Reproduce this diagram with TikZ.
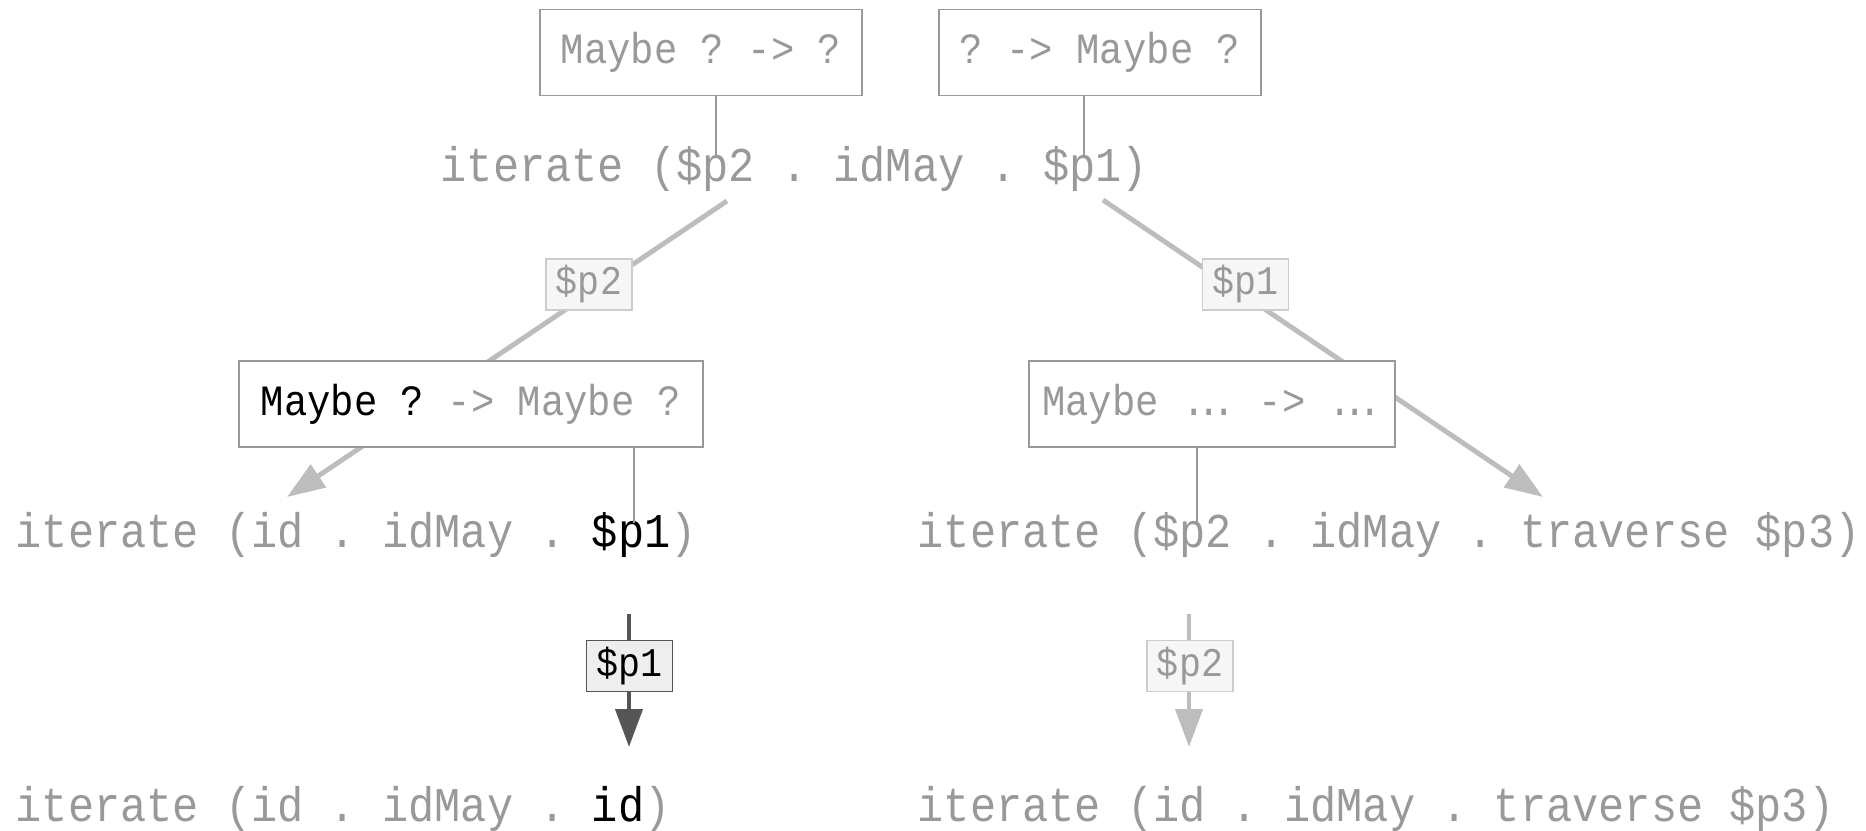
\documentclass[tikz,border=0pt]{standalone}
\usepackage{fontspec}
\usetikzlibrary{positioning,arrows.meta}

\newfontfamily\codefont{Liberation Mono}[FakeStretch=0.9]
\newcommand\mdots{.\kern-2.4pt.\kern-2.4pt.}
\frenchspacing

\definecolor{codegray}{HTML}{999999}
\definecolor{edgegray}{HTML}{BDBDBD}
\definecolor{taggray}{HTML}{CCCCCC}
\definecolor{tagfill}{HTML}{F6F6F6}
\definecolor{hotline}{HTML}{555555}
\definecolor{hotfill}{HTML}{EEEEEE}

\begin{document}
\begin{tikzpicture}[x=0.1mm, y=-0.1mm,
      expr/.style={font=\codefont\fontsize{13.8pt}{16pt}\selectfont,
          text=codegray, inner sep=0pt, anchor=base west},
      sig/.style={draw=codegray, line width=0.5pt, fill=white,
          font=\codefont\fontsize{12.3pt}{14pt}\selectfont,
          text=codegray, minimum height=8.6mm, inner sep=0pt},
      lbl/.style={draw=taggray, fill=tagfill, line width=0.45pt,
          font=\codefont\fontsize{11.6pt}{13pt}\selectfont, text=codegray,
          minimum width=8.6mm, minimum height=5.1mm, inner sep=0pt},
      hot lbl/.style={lbl, draw=hotline, fill=hotfill, text=black},
      flow/.style={draw=edgegray, line width=1.4pt,
          -{Triangle[length=10.8pt, width=7.6pt]}},
      hot flow/.style={flow, draw=hotline},
      hook/.style={draw=codegray, line width=0.45pt}]

      \useasboundingbox (0,0) rectangle (1866,830);

      % End points of the rewrite steps
      \coordinate (forkL) at (727,201);
      \coordinate (tipL) at (287,497);
      \coordinate (forkR) at (1103,200);
      \coordinate (tipR) at (1543,497);
      \coordinate (dropL) at (629,614);
      \coordinate (landL) at (629,747);
      \coordinate (dropR) at (1189,614);
      \coordinate (landR) at (1189,747);

      % Where the type boxes point into the expressions
      \coordinate (hookA) at (716,157);
      \coordinate (hookB) at (1084,157);
      \coordinate (hookC) at (634,523);
      \coordinate (hookD) at (1197,523);

      % Rewrite steps
      \draw[flow] (forkL) -- (tipL);
      \draw[flow] (forkR) -- (tipR);
      \draw[hot flow] (dropL) -- (landL);
      \draw[flow] (dropR) -- (landR);

      % Expressions
      \node[expr] (root) at (440,181) {iterate (\$p2 . idMay . \$p1)};
      \node[expr] (left) at (15,547) {iterate (id . idMay . {\color{black}\$p1})};
      \node[expr] (right) at (917,547) {iterate (\$p2 . idMay . traverse \$p3)};
      \node[expr] (leftdone) at (15,821) {iterate (id . idMay . {\color{black}id})};
      \node[expr] (rightnext) at (917,821) {iterate (id . idMay . traverse \$p3)};

      % Types of the holes
      \node[sig, minimum width=32.2mm] (tyA) at (701,52.5) {Maybe ? -> ?};
      \node[sig, minimum width=32.2mm] (tyB) at (1100,52.5) {? -> Maybe ?};
      \node[sig, minimum width=46.4mm] (tyC) at (471,404) {{\color{black}Maybe ?} -> Maybe ?};
      \node[sig, minimum width=36.6mm] (tyD) at (1212,404) {Maybe \mdots{} -> \mdots};

      \draw[hook] (tyA.south -| hookA) -- (hookA);
      \draw[hook] (tyB.south -| hookB) -- (hookB);
      \draw[hook] (tyC.south -| hookC) -- (hookC);
      \draw[hook] (tyD.south -| hookD) -- (hookD);

      % Labels on the steps
      \node[lbl] (tagA) at (589,284.5) {\$p2};
      \node[lbl] (tagB) at (1245.5,284.5) {\$p1};
      \node[hot lbl] (tagC) at (629.5,666) {\$p1};
      \node[lbl] (tagD) at (1190,666) {\$p2};

\end{tikzpicture}
\end{document}
